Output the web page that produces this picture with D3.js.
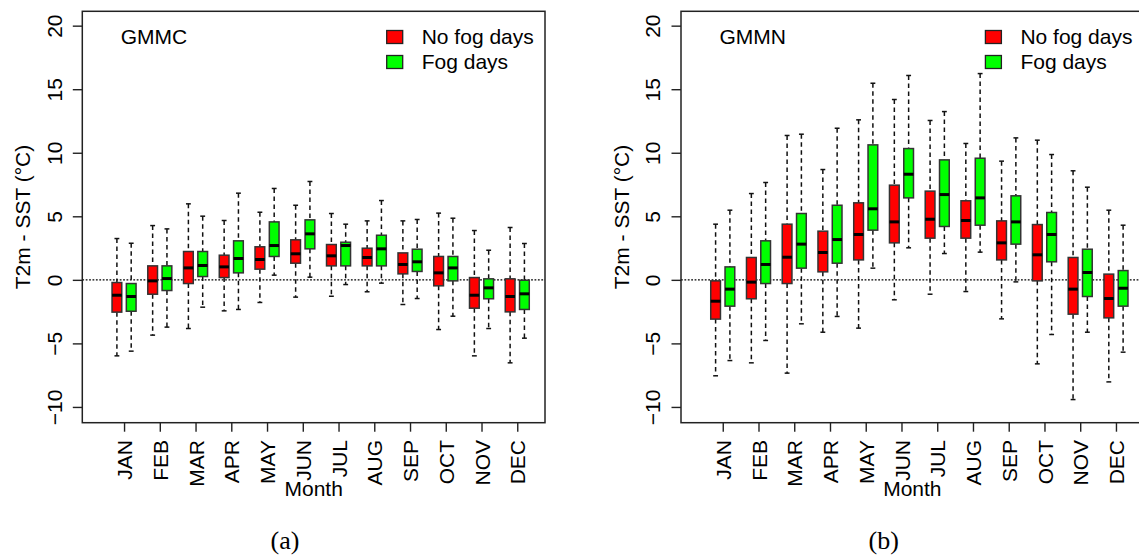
<!DOCTYPE html>
<html>
<head>
<meta charset="utf-8">
<script src="https://cdn.jsdelivr.net/npm/d3@7"></script>
<style>
  body { margin: 0; background: #fff; }
  svg { display: block; }
  text { font-family: "Liberation Sans", Arial, sans-serif; fill: #000; }
</style>
</head>
<body>
<svg id="chart" width="1139" height="556"></svg>
<script>
// month names on the x axis
const months = ["JAN", "FEB", "MAR", "APR", "MAY", "JUN", "JUL", "AUG", "SEP", "OCT", "NOV", "DEC"]
const yTicks = [-10, -5, 0, 5, 10, 15, 20]

// box stats per month: [lower whisker, q1, median, q3, upper whisker]
const gmmcNoFog = [
  [-5.98, -2.54, -1.21, -0.21, 3.25],
  [-4.35, -1.13, -0.08, 1.10, 4.27],
  [-3.83, -0.29, 0.94, 2.23, 5.98],
  [-2.44, 0.18, 1.02, 1.94, 4.67],
  [-1.78, 0.84, 1.60, 2.60, 5.32],
  [-1.36, 1.31, 2.05, 3.15, 5.87],
  [-1.29, 1.10, 1.89, 2.78, 5.22],
  [-0.94, 1.10, 1.76, 2.49, 4.64],
  [-1.94, 0.47, 1.21, 2.12, 4.64],
  [-3.91, -0.47, 0.55, 1.84, 5.25],
  [-5.98, -2.23, -1.21, 0.18, 3.88],
  [-6.53, -2.52, -1.31, 0.08, 4.12]
]
const gmmcFog = [
  [-5.61, -2.47, -1.31, -0.29, 2.88],
  [-3.72, -0.84, 0.10, 1.10, 4.01],
  [-2.15, 0.26, 1.13, 2.23, 5.01],
  [-2.33, 0.55, 1.68, 3.07, 6.82],
  [0.37, 1.84, 2.70, 4.56, 7.19],
  [0.21, 2.44, 3.62, 4.72, 7.74],
  [-0.37, 1.10, 2.70, 2.96, 4.38],
  [-0.26, 1.10, 2.44, 3.51, 6.24],
  [-1.47, 0.66, 1.42, 2.41, 4.75],
  [-2.86, -0.08, 0.94, 1.84, 4.85],
  [-3.83, -1.49, -0.63, 0.08, 2.33],
  [-4.59, -2.33, -1.10, -0.03, 2.86]
]
const gmmnNoFog = [
  [-7.55, -3.09, -1.68, -0.08, 4.38],
  [-6.53, -1.49, -0.18, 1.76, 6.79],
  [-7.34, -0.29, 1.78, 4.38, 11.36],
  [-4.12, 0.63, 2.15, 3.83, 8.68],
  [-3.80, 1.57, 3.57, 6.06, 12.59],
  [-1.57, 2.91, 4.56, 7.45, 14.19],
  [-1.13, 3.28, 4.77, 6.98, 12.54],
  [-0.92, 3.28, 4.67, 6.22, 10.73],
  [-3.07, 1.57, 2.91, 4.64, 9.34],
  [-6.61, -0.08, 1.97, 4.35, 10.99],
  [-9.42, -2.70, -0.73, 1.76, 8.58],
  [-8.03, -2.99, -1.47, 0.45, 5.48]
]
const gmmnFog = [
  [-6.35, -2.07, -0.73, 1.02, 5.48],
  [-4.77, -0.29, 1.21, 3.07, 7.66],
  [-3.46, 0.92, 2.81, 5.22, 11.46],
  [-2.88, 1.31, 3.17, 5.87, 11.93],
  [0.92, 3.91, 5.59, 10.62, 15.47],
  [2.52, 6.45, 8.31, 10.33, 16.08],
  [2.07, 4.20, 6.71, 9.44, 13.24],
  [2.18, 4.30, 6.45, 9.57, 16.23],
  [-0.16, 2.81, 4.56, 6.61, 11.17],
  [-4.30, 1.42, 3.57, 5.30, 9.86],
  [-4.12, -1.31, 0.58, 2.41, 7.29],
  [-5.69, -2.07, -0.66, 0.73, 4.30]
]

const noFogColor = "#ff0000"
const fogColor = "#00ff00"
const fontSize = "21px"

const svg = d3.select("#chart")
svg.append("rect").attr("width", 1139).attr("height", 556).attr("fill", "#fff")

const plotLeft = 82.3, plotRight = 545, plotTop = 11.3, plotBottom = 422.7

// slot positions: no-fog box at 2.5*i+1, fog box at 2.5*i+2
const x = d3.scaleLinear().domain([-1.42, 30.94]).range([plotLeft, plotRight])
const y = d3.scaleLinear().domain([-11.24, 21.13]).range([plotBottom, plotTop])
const boxW = 0.68

function drawPanel(g, name, noFog, fog, caption) {
  // zero reference line
  g.append("line")
    .attr("x1", plotLeft).attr("x2", plotRight)
    .attr("y1", y(0)).attr("y2", y(0))
    .attr("stroke", "#000").attr("stroke-width", 1.3)
    .attr("stroke-dasharray", "1.8,1.6")

  const series = [
    { stats: noFog, fill: noFogColor, off: 1 },
    { stats: fog, fill: fogColor, off: 2 }
  ]
  series.forEach(s => {
    const box = g.append("g").selectAll("g")
      .data(s.stats)
      .enter()
      .append("g")
    const cx = (d, i) => x(2.5 * i + s.off)
    const hw = x(boxW / 2) - x(0)
    const sw = hw / 2

    // dashed whiskers
    box.append("line")
      .attr("x1", cx).attr("x2", cx)
      .attr("y1", d => y(d[4])).attr("y2", d => y(d[3]))
      .attr("stroke", "#111").attr("stroke-width", 1.5).attr("stroke-dasharray", "4.5,3.5")
    box.append("line")
      .attr("x1", cx).attr("x2", cx)
      .attr("y1", d => y(d[1])).attr("y2", d => y(d[0]))
      .attr("stroke", "#111").attr("stroke-width", 1.5).attr("stroke-dasharray", "4.5,3.5")
    // staples
    box.append("line")
      .attr("x1", (d, i) => cx(d, i) - sw).attr("x2", (d, i) => cx(d, i) + sw)
      .attr("y1", d => y(d[4])).attr("y2", d => y(d[4]))
      .attr("stroke", "#111").attr("stroke-width", 1.5)
    box.append("line")
      .attr("x1", (d, i) => cx(d, i) - sw).attr("x2", (d, i) => cx(d, i) + sw)
      .attr("y1", d => y(d[0])).attr("y2", d => y(d[0]))
      .attr("stroke", "#111").attr("stroke-width", 1.5)
    // box
    box.append("rect")
      .attr("x", (d, i) => cx(d, i) - hw)
      .attr("width", 2 * hw)
      .attr("y", d => y(d[3]))
      .attr("height", d => y(d[1]) - y(d[3]))
      .attr("fill", s.fill)
      .attr("stroke", "#333").attr("stroke-width", 1.5)
    // median
    box.append("line")
      .attr("x1", (d, i) => cx(d, i) - hw).attr("x2", (d, i) => cx(d, i) + hw)
      .attr("y1", d => y(d[2])).attr("y2", d => y(d[2]))
      .attr("stroke", "#000").attr("stroke-width", 3)
  })

  // frame
  g.append("rect")
    .attr("x", plotLeft).attr("y", plotTop)
    .attr("width", plotRight - plotLeft).attr("height", plotBottom - plotTop)
    .attr("fill", "none").attr("stroke", "#222").attr("stroke-width", 1.5)

  // y axis
  const ya = g.append("g")
    .attr("transform", `translate(${plotLeft},0)`)
    .call(d3.axisLeft(y).tickValues(yTicks).tickSize(9.5).tickFormat(d3.format("d")))
  ya.select(".domain").remove()
  ya.selectAll("line").attr("stroke", "#222").attr("stroke-width", 1.4)
  ya.selectAll("text")
    .attr("transform", "rotate(-90)")
    .attr("x", 0).attr("y", -28).attr("dy", "0.35em")
    .attr("text-anchor", "middle")
    .style("font-size", fontSize)
    .style("font-family", "'Liberation Sans', Arial, sans-serif")
    .attr("fill", "#000")

  // x axis with month names
  const xa = g.append("g")
    .attr("transform", `translate(0,${plotBottom})`)
    .call(d3.axisBottom(x)
      .tickValues(months.map((m, i) => 2.5 * i + 1.5))
      .tickFormat((d, i) => months[i])
      .tickSize(9))
  xa.select(".domain").remove()
  xa.selectAll("line").attr("stroke", "#222").attr("stroke-width", 1.4)
  xa.selectAll("text")
    .attr("transform", "rotate(-90)")
    .attr("x", -17.3).attr("y", 0).attr("dy", "0.36em")
    .attr("text-anchor", "end")
    .style("font-size", fontSize)
    .style("font-family", "'Liberation Sans', Arial, sans-serif")
    .attr("fill", "#000")

  // axis titles
  g.append("text")
    .attr("transform", `translate(30,${(plotTop + plotBottom) / 2}) rotate(-90)`)
    .attr("text-anchor", "middle")
    .style("font-size", fontSize)
    .text("T2m - SST (°C)")
  g.append("text")
    .attr("x", (plotLeft + plotRight) / 2).attr("y", 496)
    .attr("text-anchor", "middle")
    .style("font-size", fontSize)
    .text("Month")

  // station name
  g.append("text")
    .attr("x", 120.7).attr("y", 44.3)
    .style("font-size", fontSize)
    .text(name)

  // legend
  const legend = [["No fog days", noFogColor, 37], ["Fog days", fogColor, 62]]
  legend.forEach(([label, color, cy]) => {
    g.append("rect")
      .attr("x", 386.7).attr("y", cy - 6.5)
      .attr("width", 16).attr("height", 13)
      .attr("fill", color).attr("stroke", "#222").attr("stroke-width", 1.3)
    g.append("text")
      .attr("x", 421.7).attr("y", cy).attr("dy", "0.35em")
      .style("font-size", fontSize)
      .text(label)
  })

  // sub-figure caption
  g.append("text")
    .attr("x", 285).attr("y", 549)
    .attr("text-anchor", "middle")
    .style("font-family", "'Liberation Serif', 'Times New Roman', serif")
    .style("font-size", "26px")
    .text(caption)
}

drawPanel(svg.append("g"), "GMMC", gmmcNoFog, gmmcFog, "(a)")
drawPanel(svg.append("g").attr("transform", "translate(598.7,0)"), "GMMN", gmmnNoFog, gmmnFog, "(b)")
</script>
</body>
</html>
